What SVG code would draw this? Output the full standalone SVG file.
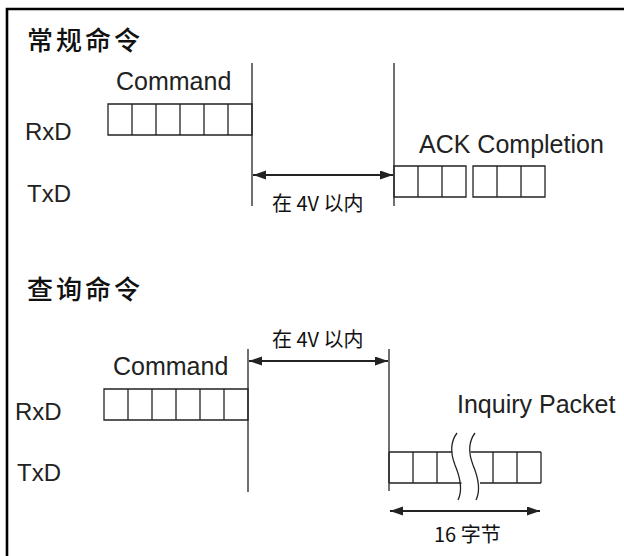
<svg xmlns="http://www.w3.org/2000/svg" width="624" height="556" viewBox="0 0 624 556">
<style>
.frame{stroke:#000;stroke-width:2.6;fill:none}
.cell{fill:none;stroke:#222;stroke-width:1.3}
.vline{stroke:#222;stroke-width:1.3;fill:none}
.arrow{stroke:#222;stroke-width:2;fill:none;marker-start:url(#ah);marker-end:url(#ah)}
.wave{fill:none;stroke:#222;stroke-width:1.3}
.en{font-family:"Liberation Sans",Arial,sans-serif;font-size:25px;fill:#222}
.sig{font-family:"Liberation Sans",Arial,sans-serif;font-size:24px;fill:#222}
.title{font-family:"Noto Sans CJK SC","Noto Sans",sans-serif;font-size:26px;font-weight:500;letter-spacing:3px;fill:#111}
.cjk{font-family:"Noto Sans CJK SC","Noto Sans",sans-serif;font-size:20px;fill:#111}
</style>
<defs>
<marker id="ah" markerUnits="userSpaceOnUse" markerWidth="14" markerHeight="10" refX="13" refY="4.5" orient="auto-start-reverse">
<path d="M0,0 L13,4.5 L0,9 Z" fill="#222"/>
</marker>
<g id="cell6"><path class="cell" d="M0,0 H144 V31 H0 Z M24,0 V31 M48,0 V31 M72,0 V31 M96,0 V31 M120,0 V31"/></g>
</defs>
<rect width="624" height="556" fill="#fff"/>
<path class="frame" d="M7,556 V9 H624"/>

<g id="normal">
<text class="title" x="27" y="50">常规命令</text>
<g id="normal-rxd-label"><text class="sig" x="25" y="140">RxD</text></g>
<g id="normal-txd-label"><text class="sig" x="27" y="202">TxD</text></g>
<g id="normal-command">
<text class="en" x="116" y="90">Command</text>
<use href="#cell6" x="108" y="104"/>
</g>
<g id="normal-ack">
<text class="en" x="419" y="153">ACK Completion</text>
<path class="cell" d="M394,166 H466 V197 H394 Z M418,166 V197 M442,166 V197"/>
<path class="cell" d="M473,166 H545 V197 H473 Z M497,166 V197 M521,166 V197"/>
</g>
<g id="normal-timing">
<text class="cjk" x="272" y="211">在 4V 以内</text>
</g>
</g>

<g id="inquiry">
<text class="title" x="27" y="299">查询命令</text>
<g id="inquiry-rxd-label"><text class="sig" x="15" y="420">RxD</text></g>
<g id="inquiry-txd-label"><text class="sig" x="17" y="481">TxD</text></g>
<g id="inquiry-command">
<text class="en" x="113" y="375">Command</text>
<use href="#cell6" x="104" y="389"/>
</g>
<g id="inquiry-packet">
<text class="en" x="457" y="413">Inquiry Packet</text>
<path class="cell" d="M389,452 V483 M413,452 V483 M437,452 V483 M493,452 V483 M517,452 V483 M541,452 V483 M389,452 H452.5 M389,483 H461.5 M470.5,452 H541 M480,483 H541"/>
<path class="wave" d="M457,433 C451,441 450,452 455,465 C460,477 463,490 458,500"/>
<path class="wave" d="M475,433 C469,441 468,452 473,465 C478,477 481,490 476,500"/>
</g>
<g id="inquiry-timing">
<text class="cjk" x="272" y="347">在 4V 以内</text>
</g>
<g id="inquiry-length">
<text class="cjk" x="434" y="542">16 字节</text>
</g>
</g>

<g id="connectors">
<path class="vline" d="M252,63 V206"/>
<path class="vline" d="M394,63 V206"/>
<path class="arrow" d="M253,175 H393"/>
<path class="vline" d="M248,349 V492"/>
<path class="vline" d="M389,349 V491"/>
<path class="arrow" d="M249,361 H388"/>
<path class="arrow" d="M390,511 H540"/>
</g>
</svg>
